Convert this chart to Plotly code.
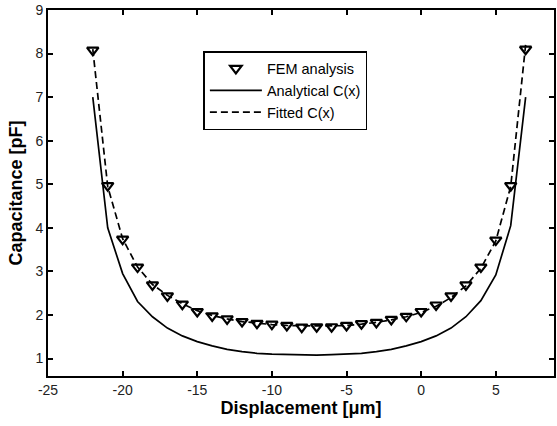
import plotly.graph_objects as go

x_pos = [-22, -21, -20, -19, -18, -17, -16, -15, -14, -13, -12, -11, -10, -9, -8,
         -7, -6, -5, -4, -3, -2, -1, 0, 1, 2, 3, 4, 5, 6, 7]
fem_c = [8.08, 4.97, 3.74, 3.10, 2.69, 2.44, 2.25, 2.08, 1.98, 1.91, 1.85, 1.81, 1.79, 1.76, 1.72,
         1.73, 1.73, 1.76, 1.80, 1.83, 1.90, 1.97, 2.08, 2.23, 2.44, 2.69, 3.10, 3.72, 4.97, 8.10]
analytical_c = [7.0, 4.0, 2.95, 2.31, 1.96, 1.70, 1.52, 1.39, 1.29, 1.21, 1.16, 1.12, 1.10, 1.09, 1.08,
                1.08, 1.09, 1.10, 1.12, 1.16, 1.21, 1.29, 1.39, 1.52, 1.70, 1.96, 2.33, 2.92, 4.05, 7.0]
fitted_c = [8.10, 4.95, 3.75, 3.10, 2.70, 2.45, 2.26, 2.10, 1.99, 1.91, 1.85, 1.81, 1.78, 1.76, 1.75,
            1.75, 1.75, 1.76, 1.79, 1.83, 1.89, 1.96, 2.06, 2.20, 2.40, 2.67, 3.07, 3.70, 4.95, 8.20]

x_ticks = [-25, -20, -15, -10, -5, 0, 5]
y_ticks = [1, 2, 3, 4, 5, 6, 7, 8, 9]

FONT = "Liberation Sans, Arial, sans-serif"

fig = go.Figure()
fig.add_trace(go.Scatter(
    x=x_pos, y=fem_c, mode="markers", name="FEM analysis",
    marker=dict(symbol="triangle-down-open", size=10, color="black",
                line=dict(color="black", width=2.2)),
))
fig.add_trace(go.Scatter(
    x=x_pos, y=analytical_c, mode="lines", name="Analytical C(x)",
    line=dict(color="black", width=1.7),
))
fig.add_trace(go.Scatter(
    x=x_pos, y=fitted_c, mode="lines", name="Fitted C(x)",
    line=dict(color="black", width=1.7, dash="7px,4px"),
))

axis_common = dict(
    showline=True, linecolor="black", linewidth=2, mirror="ticks",
    ticks="inside", ticklen=5, tickwidth=1.5, tickcolor="black",
    showgrid=False, zeroline=False,
    tickfont=dict(family=FONT, size=14, color="#222"),
)

fig.update_layout(
    width=557, height=426,
    margin=dict(l=48, r=1, t=10, b=50),
    paper_bgcolor="white", plot_bgcolor="white",
    showlegend=True,
    legend=dict(
        x=(204 - 48) / 508, y=(376 - 51) / 366, xanchor="left", yanchor="top",
        bordercolor="black", borderwidth=1.5, bgcolor="white",
        font=dict(family=FONT, size=14.5, color="black"),
        itemwidth=52, tracegroupgap=0,
    ),
    xaxis=dict(
        range=[-25, 8.9], tickvals=x_ticks, ticktext=[str(v) for v in x_ticks],
        title=dict(text="Displacement [\u03bcm]", standoff=5,
                   font=dict(family=FONT, size=18, color="black", weight="bold")),
        **axis_common,
    ),
    yaxis=dict(
        range=[0.6, 9], tickvals=y_ticks, ticktext=[str(v) for v in y_ticks],
        title=dict(text="Capacitance [pF]", standoff=8,
                   font=dict(family=FONT, size=18, color="black", weight="bold")),
        **axis_common,
    ),
)

fig.write_html("out.html")
